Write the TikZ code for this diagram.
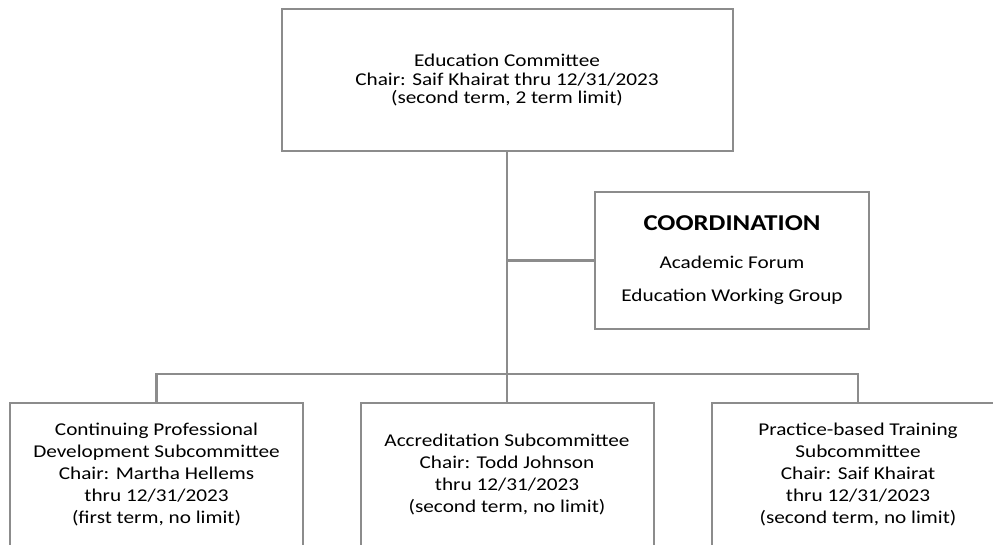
\documentclass[tikz,border=0pt]{standalone}
\usepackage{fontspec}
\setmainfont{Carlito}[FakeStretch=1.18]
\definecolor{linegray}{RGB}{140,140,140}
\setlength{\lineskiplimit}{-20pt}

\begin{document}
\begin{tikzpicture}[x=0.75pt,y=-0.75pt,
	box/.style={draw=linegray,line width=1.5pt,align=center,inner sep=0},
	topbox/.style={box,minimum width=338.25pt,minimum height=106.5pt,
		font=\fontsize{13.5}{14}\selectfont},
	coordbox/.style={box,minimum width=205.5pt,minimum height=102.75pt,
		font=\fontsize{13.5}{24.75}\selectfont},
	subbox/.style={box,minimum width=219.75pt,minimum height=107.25pt,
		font=\fontsize{13.5}{16.5}\selectfont},
	link/.style={draw=linegray,line width=1.6pt}]
	\useasboundingbox (0,0) rectangle (993,544);
	\clip (0,0) rectangle (993,544);
	\node[topbox] (edu) at (507,80) {Education Committee\\Chair: Saif Khairat thru 12/31/2023\\(second term, 2 term limit)};
	\node[coordbox] (coord) at (732,260.5) {{\bfseries\fontsize{17}{20}\selectfont COORDINATION}\\[3.8pt]Academic Forum\\Education Working Group};
	\node[subbox] (cpd) at (156.5,474.5) {Continuing Professional\\Development Subcommittee\\Chair: Martha Hellems\\thru 12/31/2023\\(first term, no limit)};
	\node[subbox] (acc) at (507,474.5) {Accreditation Subcommittee\\Chair: Todd Johnson\\thru 12/31/2023\\(second term, no limit)};
	\node[subbox] (ptt) at (858,474.5) {Practice-based Training\\Subcommittee\\Chair: Saif Khairat\\thru 12/31/2023\\(second term, no limit)};
	\coordinate (bus) at (507,374);
	\draw[link] (edu.south) -- (acc.north);
	\draw[link] (coord.west) -- (coord.west -| edu.south);
	\draw[link] (cpd.north) |- (bus) -| (ptt.north);
\end{tikzpicture}
\end{document}
